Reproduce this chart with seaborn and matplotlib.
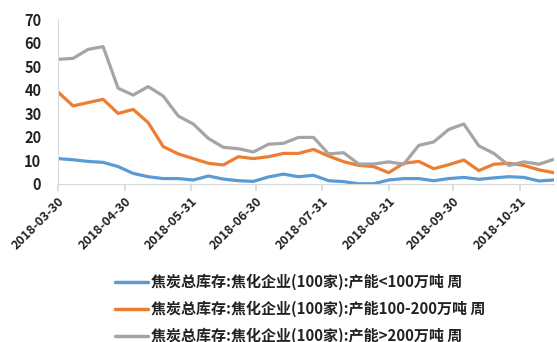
import numpy as np
import pandas as pd
import matplotlib
matplotlib.use("Agg")
import matplotlib.pyplot as plt
import matplotlib.dates as mdates
import seaborn as sns

start_date = "2018-03-30"
n_weeks = 34
series_small = [10.8, 10.3, 9.6, 9.2, 7.4, 4.5, 3.1, 2.3, 2.3, 1.7, 3.4, 2.1, 1.4, 1.1, 3.0, 4.2,
                3.1, 3.7, 1.4, 1.0, 0.1, 0.1, 1.7, 2.3, 2.3, 1.4, 2.3, 2.8, 2.0, 2.6, 3.1, 2.8, 1.3, 1.7]
series_mid = [39.1, 33.2, 34.6, 36.0, 30.0, 31.7, 26.1, 15.9, 12.8, 10.8, 8.8, 8.1, 11.6, 10.8, 11.6, 13.0,
              13.0, 14.7, 11.9, 9.5, 7.9, 7.4, 4.8, 8.8, 9.6, 6.5, 8.2, 10.2, 5.7, 8.4, 8.8, 7.9, 6.0, 4.8]
series_large = [53.0, 53.4, 57.2, 58.4, 40.7, 37.8, 41.4, 37.4, 28.9, 25.5, 19.4, 15.6, 15.0, 13.6, 16.9, 17.3,
                19.8, 19.8, 12.8, 13.3, 8.5, 8.5, 9.4, 8.4, 16.4, 17.9, 23.2, 25.5, 16.2, 13.0, 7.9, 9.4, 8.4, 10.5]
series_names = ["焦炭总库存:焦化企业(100家):产能<100万吨 周",
                "焦炭总库存:焦化企业(100家):产能100-200万吨 周",
                "焦炭总库存:焦化企业(100家):产能>200万吨 周"]
tick_labels = ["2018-03-30", "2018-04-30", "2018-05-31", "2018-06-30",
               "2018-07-31", "2018-08-31", "2018-09-30", "2018-10-31"]
colors = ["#5B9BD5", "#ED7D31", "#A5A5A5"]

dates = pd.date_range(start_date, periods=n_weeks, freq="7D")
frames = []
for name, vals in zip(series_names, [series_small, series_mid, series_large]):
    frames.append(pd.DataFrame({"date": dates, "value": vals, "series": name}))
df = pd.concat(frames, ignore_index=True)

sns.set_theme(style="white")
plt.rcParams["font.family"] = ["Noto Sans CJK SC", "DejaVu Sans"]

fig = plt.figure(figsize=(5.57, 3.42), dpi=100)
ax = fig.add_axes([58/557, (342-184)/342, (554-58)/557, (184-19.3)/342])

sns.lineplot(data=df, x="date", y="value", hue="series", palette=colors,
             hue_order=series_names, linewidth=2.3, ax=ax, legend=True)

ax.set_xlim(dates[0], dates[-1])
ax.set_ylim(0, 70)
ax.set_yticks(np.arange(0, 71, 10))
ax.set_yticklabels([str(v) for v in range(0, 71, 10)], fontsize=10.5, fontweight="bold", color="#222222")
tick_dates = pd.to_datetime(tick_labels)
ax.set_xticks(tick_dates)
ax.set_xticklabels(tick_labels, rotation=45, ha="right", rotation_mode="anchor",
                   fontsize=9, fontweight="bold", color="#222222")
ax.set_xlabel("")
ax.set_ylabel("")
for s in ["top", "right"]:
    ax.spines[s].set_visible(False)
for s in ["left", "bottom"]:
    ax.spines[s].set_color("#D9D9D9")
    ax.spines[s].set_linewidth(0.8)
ax.tick_params(axis="x", bottom=True, length=5, color="#D9D9D9", pad=3)
ax.tick_params(axis="y", left=False, pad=6)

handles, labels = ax.get_legend_handles_labels()
ax.get_legend().remove()
leg = fig.legend(handles, labels, loc="upper left", bbox_to_anchor=(115/557, 1 - 274/342),
                 frameon=False, borderpad=0, borderaxespad=0, handlelength=2.2,
                 handletextpad=0.2, labelspacing=0.7,
                 prop={"size": 10.8, "weight": "bold", "family": ["Noto Sans CJK SC", "DejaVu Sans"]})
for t in leg.get_texts():
    t.set_color("#222222")
for l in leg.get_lines():
    l.set_linewidth(2.5)

fig.savefig("out.png", dpi=100)
